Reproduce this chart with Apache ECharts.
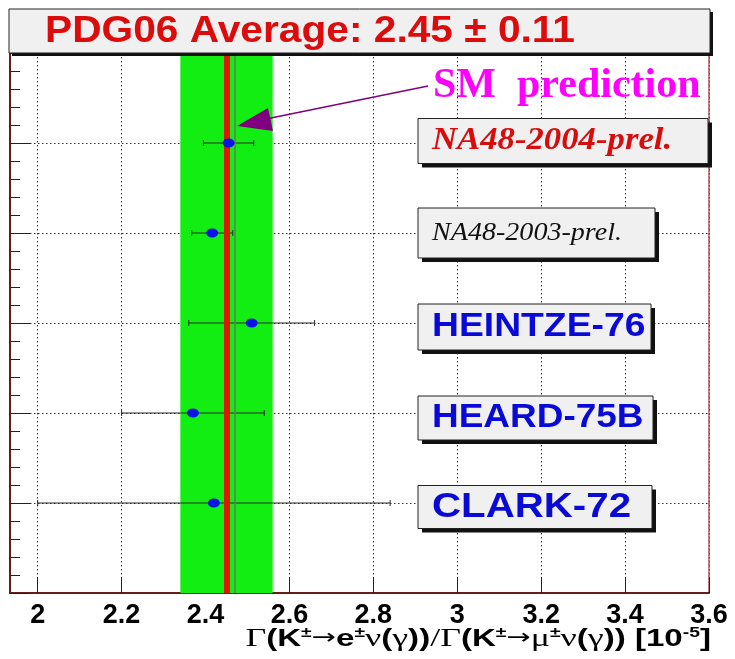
<!DOCTYPE html>
<html>
<head>
<meta charset="utf-8">
<script src="https://cdn.jsdelivr.net/npm/echarts@6/dist/echarts.min.js"></script>
<style>
  html, body { margin: 0; padding: 0; background: #fff; }
  #main { width: 735px; height: 659px; }
</style>
</head>
<body>
<div id="main"></div>
<script>
  // measurements, top to bottom
  var experiments = ['NA48-2004-prel.', 'NA48-2003-prel.', 'HEINTZE-76', 'HEARD-75B', 'CLARK-72'];
  var rows = [1, 2, 3, 4, 5];
  var centers = [2.455, 2.416, 2.51, 2.37, 2.42];
  var errors = [0.06, 0.049, 0.15, 0.17, 0.42];

  var pdgAverage = 2.45;
  var pdgLow = 2.34;
  var pdgHigh = 2.56;
  var smPrediction = 2.47;

  var xTicks = [2, 2.2, 2.4, 2.6, 2.8, 3, 3.2, 3.4, 3.6];
  var xMinorTicks = [1.95, 2.05, 2.1, 2.15, 2.25, 2.3, 2.35, 2.45, 2.5, 2.55, 2.65, 2.7, 2.75,
    2.85, 2.9, 2.95, 3.05, 3.1, 3.15, 3.25, 3.3, 3.35, 3.45, 3.5, 3.55];
  var xMin = 1.934, xMax = 3.6;

  // look of the name boxes (not data)
  var boxStyles = [
    { w: 290, h: 45, dy: -2, font: 'italic bold 31px "Liberation Serif"', color: '#d80c0c', sx: 1.12 },
    { w: 237, h: 50, dy: 0, font: 'italic 26px "Liberation Serif"', color: '#111', sx: 1.08 },
    { w: 233, h: 46, dy: 4, font: 'bold 33px "Liberation Sans"', color: '#0a0ad6', sx: 1.13 },
    { w: 235, h: 44, dy: 5, font: 'bold 33px "Liberation Sans"', color: '#0a0ad6', sx: 1.12 },
    { w: 234, h: 43, dy: 4, font: 'bold 35px "Liberation Sans"', color: '#0a0ad6', sx: 1.15 }
  ];

  var chart = echarts.init(document.getElementById('main'));

  var errData = [];
  var ptData = [];
  var boxData = [];
  for (var i = 0; i < rows.length; i++) {
    errData.push([centers[i] - errors[i], centers[i] + errors[i], rows[i]]);
    ptData.push([centers[i], rows[i]]);
    boxData.push([xMin, rows[i]]);
  }

  var frameColor = '#6a1c1c';
  var gridLine = { color: '#333', type: [1.5, 2.5], width: 1 };

  chart.setOption({
    animation: false,
    grid: { left: 10, right: 26, top: 53, bottom: 66 },
    xAxis: [{
      type: 'value', min: xMin, max: xMax,
      axisLine: { show: true, onZero: false, lineStyle: { color: frameColor, width: 2 } },
      axisTick: { show: true, inside: true, length: 16, customValues: xTicks, lineStyle: { color: '#222' } },
      axisLabel: {
        customValues: xTicks, color: '#000', fontSize: 27, fontWeight: 'bold',
        fontFamily: '"Liberation Sans", Arial', margin: 9
      },
      splitLine: { show: true, lineStyle: gridLine }
    }, {
      type: 'value', min: xMin, max: xMax, position: 'bottom',
      axisLine: { show: false },
      axisTick: { show: true, inside: true, length: 7, customValues: xMinorTicks, lineStyle: { color: '#222' } },
      axisLabel: { show: false },
      splitLine: { show: false }
    }],
    yAxis: [{
      type: 'value', inverse: true, min: 0, max: 6, interval: 1,
      axisLine: { show: true, lineStyle: { color: frameColor, width: 2 } },
      axisTick: { show: true, inside: true, length: 20, lineStyle: { color: '#222' } },
      minorTick: { show: true, splitNumber: 5, length: 10, lineStyle: { color: '#222' } },
      axisLabel: { show: false },
      splitLine: { show: true, showMinLine: false, showMaxLine: false, lineStyle: gridLine }
    }, {
      type: 'value', inverse: true, min: 0, max: 6, position: 'right',
      axisLine: { show: true, lineStyle: { color: '#a04848', width: 1.5, type: [2, 1] } },
      axisTick: { show: false }, axisLabel: { show: false }, splitLine: { show: false }
    }],
    series: [{
      name: 'PDG', type: 'scatter', data: [], z: 1, silent: true,
      markArea: {
        silent: true,
        itemStyle: { color: '#12ee12' },
        data: [[{ xAxis: pdgLow }, { xAxis: pdgHigh }]]
      },
      markLine: {
        silent: true, symbol: 'none', label: { show: false },
        data: [
          { xAxis: pdgAverage, lineStyle: { color: '#dd1a00', width: 6, type: 'solid' } },
          { xAxis: smPrediction, lineStyle: { color: '#707070', width: 1.5, type: 'solid' } }
        ]
      }
    }, {
      name: 'boxes', type: 'custom', z: 3, silent: true,
      data: boxData,
      renderItem: function (params, api) {
        var k = params.dataIndex, s = boxStyles[k];
        var y = api.coord([api.value(0), api.value(1)])[1] + s.dy;
        var x = params.coordSys.x + 408;
        return {
          type: 'group',
          children: [
            { type: 'rect', shape: { x: x + 4, y: y - s.h / 2 + 4, width: s.w, height: s.h }, style: { fill: '#111' } },
            { type: 'rect', shape: { x: x, y: y - s.h / 2, width: s.w, height: s.h }, style: { fill: '#f0f0f0', stroke: '#222', lineWidth: 1 } },
            { type: 'text', x: x + 14, y: y, scaleX: s.sx,
              style: { x: 0, y: 0, text: experiments[k], font: s.font, fill: s.color, verticalAlign: 'middle' } }
          ]
        };
      }
    }, {
      name: 'errors', type: 'custom', z: 4, silent: true,
      data: errData,
      renderItem: function (params, api) {
        var lo = api.coord([api.value(0), api.value(2)]);
        var hi = api.coord([api.value(1), api.value(2)]);
        var st = { stroke: '#2a2a2a', lineWidth: 1 };
        return {
          type: 'group',
          children: [
            { type: 'line', shape: { x1: lo[0], y1: lo[1], x2: hi[0], y2: hi[1] }, style: st },
            { type: 'line', shape: { x1: lo[0], y1: lo[1] - 3, x2: lo[0], y2: lo[1] + 3 }, style: st },
            { type: 'line', shape: { x1: hi[0], y1: hi[1] - 3, x2: hi[0], y2: hi[1] + 3 }, style: st }
          ]
        };
      }
    }, {
      name: 'points', type: 'scatter', z: 5, silent: true,
      symbol: 'circle', symbolSize: [12, 9],
      itemStyle: { color: '#0a14e6', opacity: 1 },
      data: ptData
    }],
    graphic: [
      { type: 'rect', z: 100, shape: { x: 12, y: 12, width: 701, height: 44 }, style: { fill: '#111' } },
      { type: 'rect', z: 100, shape: { x: 9, y: 9, width: 701, height: 44 }, style: { fill: '#f0f0f0', stroke: '#222', lineWidth: 1 } },
      { type: 'text', z: 101, x: 45, y: 32, scaleX: 1.1,
        style: { x: 0, y: 0, text: 'PDG06 Average: 2.45 ± 0.11', font: 'bold 37px "Liberation Sans", Arial', fill: '#dd0c0c', verticalAlign: 'middle' } },
      { type: 'text', z: 101, style: { x: 433, y: 86, text: 'SM  prediction', font: 'bold 42px "Liberation Serif"', fill: '#ff00ff', verticalAlign: 'middle' } },
      { type: 'line', z: 101, shape: { x1: 428, y1: 86, x2: 266, y2: 119 }, style: { stroke: '#800080', lineWidth: 1.5 } },
      { type: 'polygon', z: 101, shape: { points: [[237, 126], [268, 108], [273, 131]] }, style: { fill: '#800080' } },
      { type: 'text', z: 101, x: 711, y: 639, scaleX: 1.38,
        style: {
          x: 0, y: 0, align: 'right', verticalAlign: 'middle',
          text: '{g|Γ}{b|(K}{p|±}{a|→}{b|e}{p|±}{g|ν}{b|(}{g|γ}{b|))}{g|/Γ}{b|(K}{p|±}{a|→}{g|μ}{p|±}{g|ν}{b|(}{g|γ}{b|)) [10}{p|-5}{b|]}',
          rich: {
            g: { font: '26px "Liberation Serif"', fill: '#000' },
            b: { font: 'bold 24px "Liberation Sans"', fill: '#000' },
            p: { font: 'bold 14px "Liberation Sans"', fill: '#000', verticalAlign: 'top' },
            a: { font: '21px "DejaVu Sans"', fill: '#000' }
          }
        } }
    ]
  });
</script>
</body>
</html>
